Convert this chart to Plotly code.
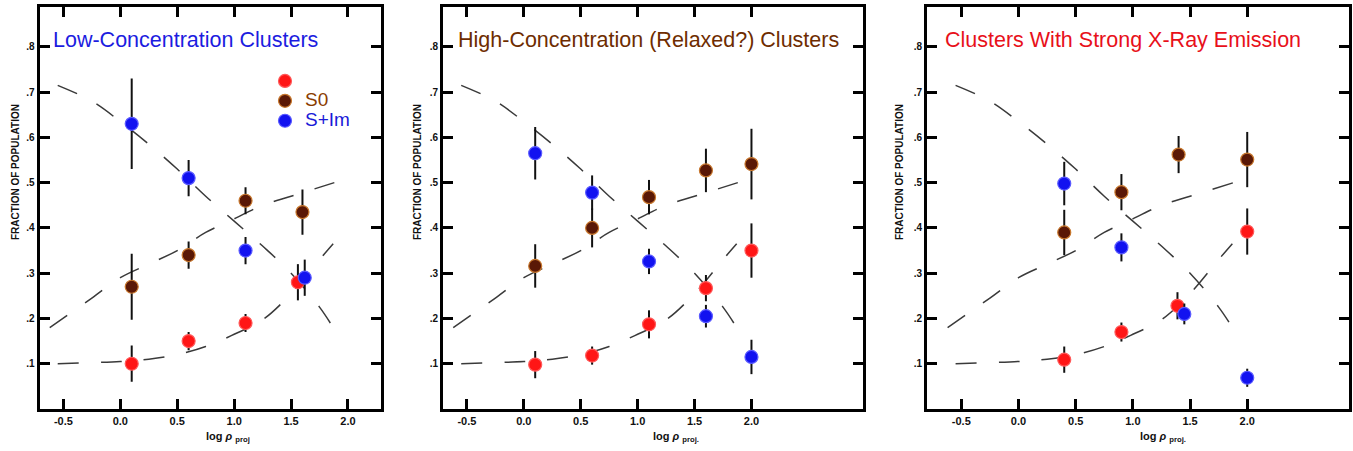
import plotly.graph_objects as go

# ---------------- data ----------------
# model curves (dashed), same in every panel
curve_sim_x = [-0.55, -0.25, 0.0, 0.25, 0.5, 0.75, 1.0, 1.25, 1.5, 1.75, 1.87]
curve_sim_y = [0.715, 0.68, 0.635, 0.585, 0.53, 0.47, 0.415, 0.36, 0.30, 0.225, 0.18]
curve_s0_x = [-0.62, -0.25, 0.0, 0.25, 0.5, 0.75, 1.0, 1.25, 1.5, 1.88]
curve_s0_y = [0.18, 0.245, 0.29, 0.32, 0.35, 0.39, 0.42, 0.45, 0.47, 0.50]
curve_e_x = [-0.55, 0.0, 0.25, 0.5, 0.75, 1.0, 1.25, 1.5, 1.75, 1.87]
curve_e_y = [0.10, 0.105, 0.11, 0.12, 0.138, 0.165, 0.197, 0.255, 0.33, 0.365]

# Panel 1: Low-Concentration Clusters
p1_e_x = [0.1, 0.6, 1.1, 1.56]
p1_e_y = [0.10, 0.15, 0.19, 0.28]
p1_e_err = [0.04, 0.02, 0.02, 0.04]
p1_s0_x = [0.1, 0.6, 1.1, 1.6]
p1_s0_y = [0.27, 0.34, 0.46, 0.435]
p1_s0_err = [0.073, 0.03, 0.03, 0.05]
p1_sim_x = [0.1, 0.6, 1.1, 1.62]
p1_sim_y = [0.63, 0.51, 0.35, 0.29]
p1_sim_err = [0.10, 0.04, 0.03, 0.04]

# Panel 2: High-Concentration (Relaxed?) Clusters
p2_x = [0.1, 0.6, 1.1, 1.6, 2.0]
p2_e_y = [0.098, 0.118, 0.187, 0.267, 0.35]
p2_e_err = [0.03, 0.02, 0.031, 0.029, 0.06]
p2_s0_y = [0.316, 0.40, 0.468, 0.527, 0.541]
p2_s0_err = [0.048, 0.043, 0.038, 0.048, 0.078]
p2_sim_y = [0.565, 0.478, 0.326, 0.205, 0.115]
p2_sim_err = [0.058, 0.038, 0.028, 0.025, 0.038]

# Panel 3: Clusters With Strong X-Ray Emission
p3_e_x = [0.4, 0.9, 1.39, 2.0]
p3_e_y = [0.109, 0.17, 0.228, 0.392]
p3_e_err = [0.029, 0.021, 0.03, 0.051]
p3_s0_x = [0.4, 0.9, 1.4, 2.0]
p3_s0_y = [0.39, 0.479, 0.562, 0.551]
p3_s0_err = [0.05, 0.04, 0.041, 0.061]
p3_sim_x = [0.4, 0.9, 1.45, 2.0]
p3_sim_y = [0.498, 0.357, 0.21, 0.069]
p3_sim_err = [0.048, 0.031, 0.023, 0.02]

x_tick_vals = [-0.5, 0.0, 0.5, 1.0, 1.5, 2.0]
x_tick_text = ["-0.5", "0.0", "0.5", "1.0", "1.5", "2.0"]
y_tick_vals = [0.1, 0.2, 0.3, 0.4, 0.5, 0.6, 0.7, 0.8]
y_tick_text = [".1", ".2", ".3", ".4", ".5", ".6", ".7", ".8"]

titles = ["Low-Concentration Clusters",
          "High-Concentration (Relaxed?) Clusters",
          "Clusters With Strong X-Ray Emission"]
x_titles = ["log <i>ρ</i> <sub>proj</sub>",
            "log <i>ρ</i> <sub>proj.</sub>",
            "log <i>ρ</i> <sub>proj.</sub>"]

# ---------------- style ----------------
W, H = 1353, 451
RED = "#ff1616"
BROWN = "#5a1806"
BLUE = "#1212f0"
TITLE_COLORS = ["#1c1ce0", "#6e2c00", "#e8101a"]
FONT = "Arial, Liberation Sans, sans-serif"

domains_px = [(39.5, 381), (443, 863), (927, 1349)]
x_ranges = [[-0.71, 2.29], [-0.71, 2.98], [-0.80, 2.89]]
y_range = [0.0, 0.888]
y_dom = [1 - 409 / H, 1 - 7 / H]

fig = go.Figure()


def add_panel(i, e, s0, sim, legend=False):
    xa = "x" if i == 0 else f"x{i + 1}"
    ya = "y" if i == 0 else f"y{i + 1}"
    for cx, cy in [(curve_sim_x, curve_sim_y), (curve_s0_x, curve_s0_y), (curve_e_x, curve_e_y)]:
        fig.add_trace(go.Scatter(x=cx, y=cy, mode="lines", xaxis=xa, yaxis=ya,
                                 line=dict(color="#3a3a3a", width=1.5, dash="21px,22px", shape="spline"),
                                 showlegend=False, hoverinfo="skip"))
    specs = [
        (e, RED, "#ff5a5a", " "),
        (s0, BROWN, "#c8782e", "<span style='color:#8a3c00;font-size:19px'>S0</span>"),
        (sim, BLUE, "#5a5aff", "<span style='color:#1a1ad8;font-size:19px'>S+Im</span>"),
    ]
    for (px, py, perr), fill, edge, name in specs:
        fig.add_trace(go.Scatter(
            x=px, y=py, mode="markers", xaxis=xa, yaxis=ya, name=name,
            marker=dict(color=fill, size=13, line=dict(color=edge, width=1.2)),
            error_y=dict(type="data", array=perr, visible=True, color="#111111",
                         thickness=2, width=0),
            showlegend=legend))


add_panel(0, (p1_e_x, p1_e_y, p1_e_err), (p1_s0_x, p1_s0_y, p1_s0_err),
          (p1_sim_x, p1_sim_y, p1_sim_err), legend=True)
add_panel(1, (p2_x, p2_e_y, p2_e_err), (p2_x, p2_s0_y, p2_s0_err),
          (p2_x, p2_sim_y, p2_sim_err))
add_panel(2, (p3_e_x, p3_e_y, p3_e_err), (p3_s0_x, p3_s0_y, p3_s0_err),
          (p3_sim_x, p3_sim_y, p3_sim_err))

axis_common = dict(showline=True, linecolor="black", linewidth=3, mirror="ticks",
                   ticks="inside", ticklen=10, tickwidth=2.5, tickcolor="black",
                   showgrid=False, zeroline=False,
                   tickfont=dict(family=FONT, size=11, color="#111", weight="bold"))

layout = dict(width=W, height=H, margin=dict(l=0, r=0, t=0, b=0, autoexpand=False),
              plot_bgcolor="white", paper_bgcolor="white", showlegend=True,
              legend=dict(x=265 / W, y=1 - 66 / H, xanchor="left", yanchor="top",
                          bgcolor="rgba(0,0,0,0)", font=dict(family=FONT, size=13),
                          tracegroupgap=0, itemwidth=30))
annotations = []
centers_x = [228, 676, 1163]
ylab_x = [15, 417, 899]
title_x = [51, 456, 943]
for i in range(3):
    sfx = "" if i == 0 else str(i + 1)
    d0, d1 = domains_px[i]
    layout["xaxis" + sfx] = dict(axis_common, domain=[d0 / W, d1 / W], range=x_ranges[i],
                                 tickvals=x_tick_vals, ticktext=x_tick_text,
                                 anchor="y" + sfx)
    layout["yaxis" + sfx] = dict(axis_common, domain=y_dom, range=y_range,
                                 tickvals=y_tick_vals, ticktext=y_tick_text,
                                 anchor="x" + sfx,
                                 tickfont=dict(family=FONT, size=10, color="#111", weight="bold"))
    annotations.append(dict(text=titles[i], xref="paper", yref="paper",
                            x=title_x[i] / W, y=1 - 40 / H, xanchor="left", yanchor="middle",
                            showarrow=False,
                            font=dict(family=FONT, size=21.5, color=TITLE_COLORS[i])))
    annotations.append(dict(text="FRACTION OF POPULATION", xref="paper", yref="paper",
                            x=ylab_x[i] / W, y=1 - 172 / H, textangle=-90,
                            xanchor="center", yanchor="middle", showarrow=False,
                            font=dict(family=FONT, size=10, color="#111", weight="bold")))
    annotations.append(dict(text=x_titles[i], xref="paper", yref="paper",
                            x=centers_x[i] / W, y=1 - 437 / H,
                            xanchor="center", yanchor="middle", showarrow=False,
                            font=dict(family=FONT, size=11, color="#111", weight="bold")))
layout["annotations"] = annotations
fig.update_layout(**layout)

fig.write_html("out.html", config={"displayModeBar": False},
               post_script="document.body.style.margin='0px';document.body.style.overflow='hidden';")
